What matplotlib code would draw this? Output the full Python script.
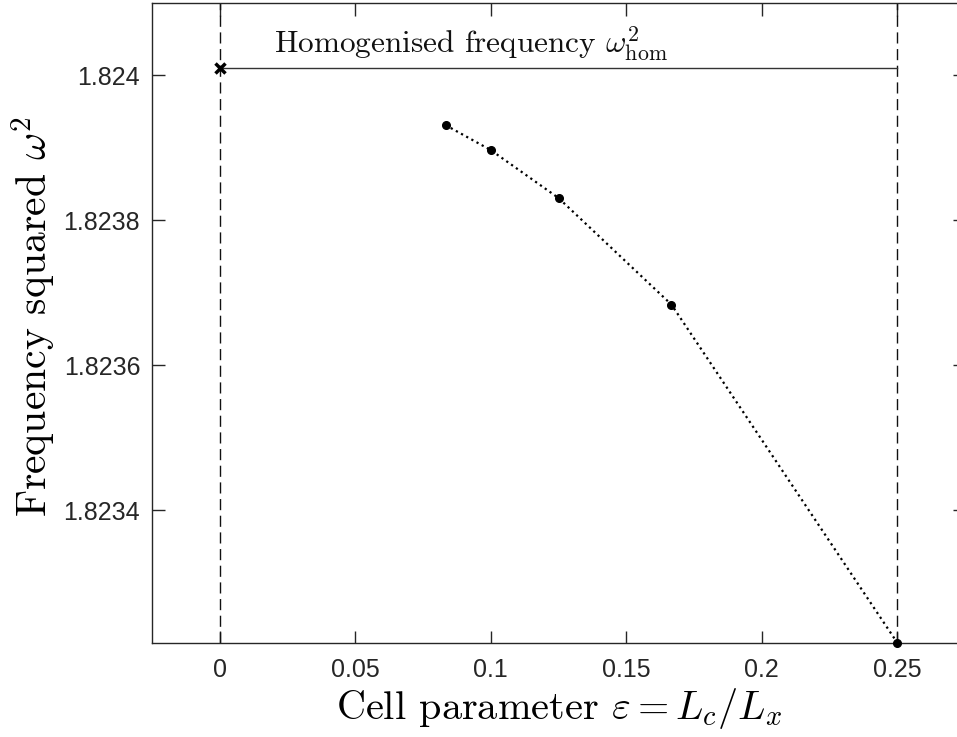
import numpy as np
import matplotlib
matplotlib.use('Agg')
import matplotlib.pyplot as plt

plt.rcParams['mathtext.fontset'] = 'cm'

# cell parameter eps = Lc/Lx and computed frequency squared
eps = [1/12, 0.1, 0.125, 1/6, 0.25]
omega2 = [1.8239311, 1.8238967, 1.8238306, 1.8236836, 1.8232171]

# homogenised limit
eps_hom = 0.0
omega2_hom = 1.824010

xticks = [0, 0.05, 0.1, 0.15, 0.2, 0.25]
xticklabels = ['0', '0.05', '0.1', '0.15', '0.2', '0.25']
yticks = [1.8234, 1.8236, 1.8238, 1.824]
yticklabels = ['1.8234', '1.8236', '1.8238', '1.824']

fig = plt.figure(figsize=(9.57, 7.37), dpi=100)
ax = fig.add_axes([152/957, 1 - 642.7/737, (965 - 152)/957, (642.7 - 2.7)/737])

ax.axvline(eps_hom, color='#111111', lw=1.0, dashes=(8, 4))
ax.axvline(eps[-1], color='#111111', lw=1.0, dashes=(8, 4))
ax.plot([eps_hom, eps[-1]], [omega2_hom, omega2_hom], color='#333333', lw=1.0)
ax.plot(eps_hom, omega2_hom, 'x', color='black', ms=7, mew=2.5, zorder=5)
ax.plot(eps, omega2, ':', color='black', lw=1.6, marker='o', ms=5.5, zorder=5, clip_on=False)

ax.text(0.0199, 1.8240293, r'Homogenised frequency $\omega^2_{\rm hom}$',
        family='cmr10', fontsize=22.5, color='#111111')

ax.set_xlim(-0.025, 0.275)
ax.set_ylim(omega2[-1], 1.8241)
ax.set_xticks(xticks)
ax.set_xticklabels(xticklabels)
ax.set_yticks(yticks)
ax.set_yticklabels(yticklabels)

ax.tick_params(direction='in', length=9, width=1, top=True, right=True,
               labelsize=18, colors='#262626')
ax.tick_params(axis='x', pad=11)
ax.tick_params(axis='y', pad=8.5)
for tl in ax.get_xticklabels() + ax.get_yticklabels():
    tl.set_family('Liberation Sans')
for s in ax.spines.values():
    s.set_color('#262626')
    s.set_linewidth(1)

ax.set_xlabel(r'Cell parameter $\varepsilon = L_c/L_x$', family='cmr10', fontsize=29, labelpad=3)
ax.set_ylabel(r'Frequency squared $\omega^2$', family='cmr10', fontsize=30, labelpad=4)
ax.yaxis.label.set_y(0.51)

fig.savefig('out.png', dpi=100)
